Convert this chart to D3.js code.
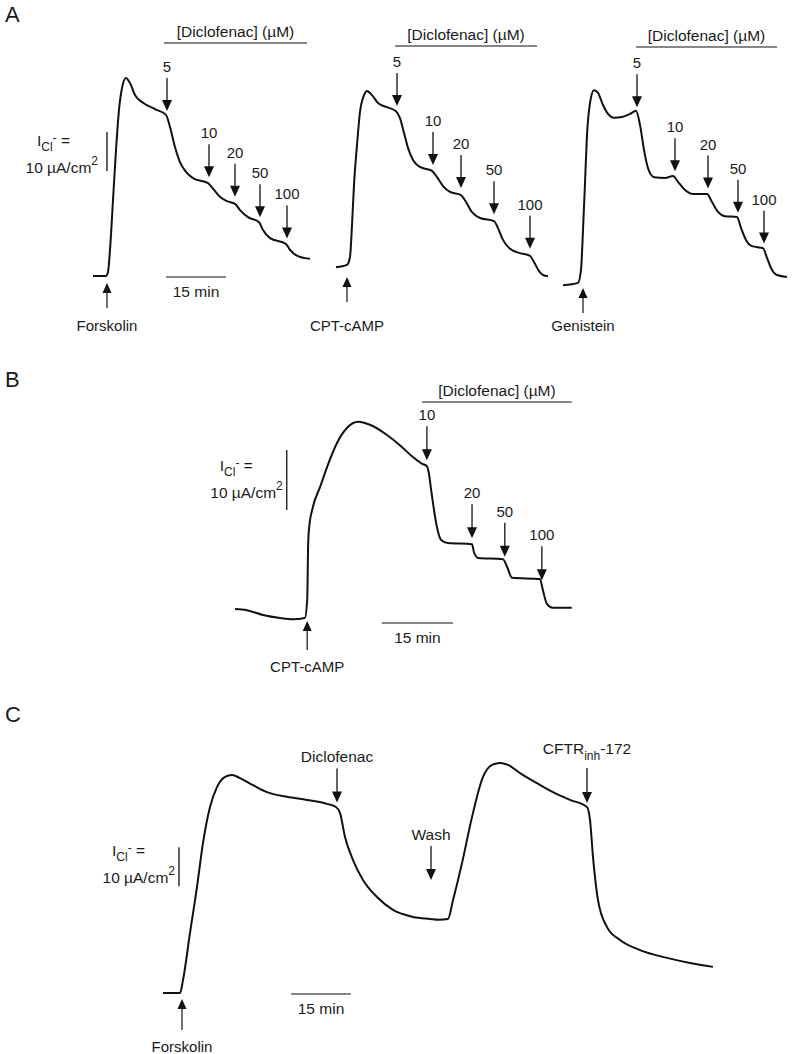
<!DOCTYPE html>
<html>
<head>
<meta charset="utf-8">
<script src="https://cdn.jsdelivr.net/npm/d3@7"></script>
<style>
  body { margin: 0; background: #fff; }
  svg text { font-family: 'Liberation Sans', Arial, Helvetica, sans-serif; fill: #1a1a1a; }
</style>
</head>
<body>
<svg width="792" height="1054"></svg>
<script>
// traces: [time (min), I_Cl (uA/cm2)], 0 = baseline before stimulation
const traceForskolinA = [[0,0],[3.25,0],[3.75,1],[4.25,6.7],[5,19.5],[5.75,32.3],[6.5,42.6],[7.25,48.2],[8.25,50.8],[9.25,49.5],[10.5,46.4],[12.5,44.4],[15.5,42.8],[18.25,41.3],[19.25,38.2],[20.5,33.1],[21.75,29.2],[23.25,26.7],[25,25.1],[28.75,23.8],[30.25,22.1],[31.75,20.3],[33.5,19.2],[35.5,18.5],[36.75,16.9],[38.75,15.1],[41.5,13.8],[42.5,11.8],[44.25,9.7],[48.25,8.2],[49.25,6.7],[51.25,5.1],[54.25,4.4]];
const traceCptA = [[0,-0.3],[2.75,0.3],[3.5,2.3],[4,10.5],[4.5,20.8],[5.25,31],[6,39.5],[7,43.8],[7.75,44.9],[9,43.8],[10.5,41.8],[12.5,40.8],[15,39.7],[16,37.9],[17,34.1],[18,30.3],[19.25,27.2],[21,25.4],[24,24.4],[25.25,22.8],[26.75,20.5],[28.5,19],[31.25,18.2],[32.5,16.4],[34,13.8],[36,12.3],[39.5,11.5],[40.5,9.7],[41.75,6.7],[43.5,4.4],[46,3.3],[48.5,2.6],[49.5,1],[50.75,-1.3],[51.75,-2.3],[53,-2.6]];
const traceGenisteinA = [[0,-0.3],[3.75,0.3],[4.5,3.6],[5,13.8],[5.5,25.9],[6,38.2],[6.75,46.4],[7.75,49.7],[8.75,49],[10,45.9],[11.25,43.6],[12.75,42.6],[14.75,42.8],[16.75,43.6],[18.25,44.4],[19.25,40.8],[20.25,34.4],[21.25,29.7],[22.75,27.4],[25.5,27.2],[27.5,27.7],[28.75,26.2],[30.5,24.1],[32.5,23.1],[36,23.1],[37.25,21],[38.75,18.5],[40.5,17.4],[43.5,17.2],[44.5,14.4],[45.75,11.3],[47.25,9.7],[50,9.2],[51,6.7],[52,4.1],[53.5,2.3],[56,1.8]];
const traceCptB = [[0,1.5],[2.5,1.3],[5.9,0.5],[9.5,0],[12.2,-0.2],[14.7,0],[15.2,3],[15.4,12.2],[15.6,15],[16.4,18.5],[17.9,21.8],[19.4,25.2],[21.5,29.2],[23.6,31.7],[25.9,32.7],[28.4,32.2],[32,30.5],[34.7,28.8],[37.5,26.8],[39.4,25.7],[40.4,25.3],[40.8,24.2],[41.3,21.3],[41.9,18],[42.5,15.2],[43.4,13],[44.8,12.5],[49.9,12.3],[50.3,11],[51.2,10],[56.4,9.8],[57.3,8.5],[58.3,6.7],[64.2,6.5],[64.8,4.7],[65.7,2.3],[66.9,1.7],[70.9,1.7]];
const traceForskolinC = [[0,0],[4.25,0],[5,3.3],[6.75,15.4],[8.5,27.2],[10,38.5],[11.75,47.7],[13.5,52.8],[15.5,55.4],[17.25,55.9],[19.25,55.1],[22.5,53.3],[26,51.5],[31,50.3],[36,49.5],[41,48.5],[43.25,47.7],[44.25,46.2],[45.5,40],[47.5,34.1],[50,29],[53.5,24.6],[57.5,21.3],[62.5,19.5],[66.75,19],[69,18.8],[71.25,19],[72.5,23.8],[74.75,33.3],[77.25,45.1],[80,55.4],[82.25,58.5],[84.25,59],[86.25,58.5],[89.25,56.4],[93.5,53.8],[97.5,51.5],[101.75,49.5],[106,47.7],[106.75,44.4],[107.5,34.9],[108.75,23.8],[111,16.9],[114.25,13.6],[119.25,11],[126,9],[131.75,7.7],[137.5,6.7]];

// diclofenac additions (uM) and when they were made (min)
const dosesA = ['5', '10', '20', '50', '100'];
const doseTimesForskolinA = [18.5, 29, 35.5, 41.75, 48.5];
const doseTimesCptA = [15.25, 24.25, 31.25, 39.5, 48.5];
const doseTimesGenisteinA = [18.5, 28, 36.25, 43.75, 50.25];
const dosesB = ['10', '20', '50', '100'];
const doseTimesB = [40.4, 49.9, 56.8, 64.6];

const eventsC = ['Diclofenac', 'Wash', 'CFTR-172'];
const eventTimesC = [43.5, 67, 106];

const svg = d3.select('svg');
const ink = '#111';

function valueAt(data, t) {
  const i = d3.bisector(d => d[0]).left(data, t);
  if (i <= 0) return data[0][1];
  if (i >= data.length) return data[data.length - 1][1];
  const a = data[i - 1], b = data[i];
  return a[1] + (b[1] - a[1]) * (t - a[0]) / (b[0] - a[0]);
}

function drawTrace(data, x, y) {
  svg.append('path')
    .datum(data)
    .attr('d', d3.line().x(d => x(d[0])).y(d => y(d[1])).curve(d3.curveMonotoneX))
    .attr('fill', 'none')
    .attr('stroke', ink)
    .attr('stroke-width', 2)
    .attr('stroke-linejoin', 'round');
}

function downArrow(xp, tip, len, label, size) {
  svg.append('line')
    .attr('x1', xp).attr('x2', xp)
    .attr('y1', tip - len).attr('y2', tip - 9)
    .attr('stroke', ink).attr('stroke-width', 1.3);
  svg.append('path')
    .attr('d', `M${xp - 5},${tip - 11}L${xp + 5},${tip - 11}L${xp},${tip}Z`)
    .attr('fill', ink);
  if (label) {
    svg.append('text')
      .attr('x', xp).attr('y', tip - len - 6)
      .attr('text-anchor', 'middle')
      .style('font-size', (size || 15) + 'px')
      .text(label);
  }
}

function upArrow(xp, tip, len, label, labelY) {
  svg.append('line')
    .attr('x1', xp).attr('x2', xp)
    .attr('y1', tip + 8).attr('y2', tip + len)
    .attr('stroke', ink).attr('stroke-width', 1.2);
  svg.append('path')
    .attr('d', `M${xp - 4.5},${tip + 10}L${xp + 4.5},${tip + 10}L${xp},${tip}Z`)
    .attr('fill', ink);
  svg.append('text')
    .attr('x', xp).attr('y', labelY || tip + len + 22)
    .attr('text-anchor', 'middle')
    .style('font-size', '15px')
    .text(label);
}

function doseBar(x, t0, t1, yp) {
  svg.append('line')
    .attr('x1', x(t0)).attr('x2', x(t1))
    .attr('y1', yp).attr('y2', yp)
    .attr('stroke', ink).attr('stroke-width', 1.2);
  svg.append('text')
    .attr('x', (x(t0) + x(t1)) / 2).attr('y', yp - 6)
    .attr('text-anchor', 'middle')
    .style('font-size', '15.5px')
    .text('[Diclofenac] (\u00b5M)');
}

function timeBar(x, t0, yp) {
  svg.append('line')
    .attr('x1', x(t0)).attr('x2', x(t0 + 15))
    .attr('y1', yp).attr('y2', yp)
    .attr('stroke', ink).attr('stroke-width', 1.2);
  svg.append('text')
    .attr('x', x(t0 + 7.5)).attr('y', yp + 20)
    .attr('text-anchor', 'middle')
    .style('font-size', '15.5px')
    .text('15 min');
}

// 10 uA/cm2 vertical bar with its two-line label
function currentBar(x, y, t, v0, lab) {
  const xp = x(t), top = y(v0 + 10), bot = y(v0);
  svg.append('line')
    .attr('x1', xp).attr('x2', xp)
    .attr('y1', top).attr('y2', bot)
    .attr('stroke', ink).attr('stroke-width', 1.3);
  const a = svg.append('text')
    .attr('x', xp - lab.dx1).attr('y', top + lab.dy1)
    .attr('text-anchor', 'end')
    .style('font-size', '15.5px');
  a.append('tspan').text('I');
  a.append('tspan').attr('dy', 5).style('font-size', '12px').text('Cl');
  a.append('tspan').attr('dy', -9).style('font-size', '12px').text('-');
  a.append('tspan').attr('dy', 4).text(' =');
  const b = svg.append('text')
    .attr('x', xp - lab.dx2).attr('y', bot + lab.dy2)
    .attr('text-anchor', 'end')
    .style('font-size', '15.5px');
  b.append('tspan').text('10 \u00b5A/cm');
  b.append('tspan').attr('dy', -8).style('font-size', '12px').text('2');
}

function panelLetter(txt, yp) {
  svg.append('text').attr('x', 5).attr('y', yp).style('font-size', '22px').text(txt);
}

// ---------- A ----------
panelLetter('A', 22);
const tracesA = [
  { data: traceForskolinA, x0: 93, y0: 276, doses: doseTimesForskolinA, stim: 3.5, gap: 7, label: 'Forskolin', bar: [17.75, 53.5, 43] },
  { data: traceCptA, x0: 336, y0: 266, doses: doseTimesCptA, stim: 2.75, gap: 11, label: 'CPT-cAMP', bar: [14.75, 50.25, 46] },
  { data: traceGenisteinA, x0: 563, y0: 284, doses: doseTimesGenisteinA, stim: 5, gap: 4, label: 'Genistein', bar: [18.25, 53.5, 47] }
];
tracesA.forEach((tr, k) => {
  const x = d3.scaleLinear().domain([0, 15]).range([tr.x0, tr.x0 + 60]);
  const y = d3.scaleLinear().domain([0, 10]).range([tr.y0, tr.y0 - 39]);
  drawTrace(tr.data, x, y);
  tr.doses.forEach((t, i) => {
    downArrow(x(t), y(valueAt(tr.data, t)) - 7, 33, dosesA[i]);
  });
  upArrow(x(tr.stim), y(0) + tr.gap, 25, tr.label, 331);
  doseBar(x, tr.bar[0], tr.bar[1], tr.bar[2]);
  if (k === 0) {
    timeBar(x, 18.25, 277);
    currentBar(x, y, 3.5, 26.9, { dx1: 37, dy1: 14, dx2: 9, dy2: 2 });
  }
});

// ---------- B ----------
panelLetter('B', 387);
{
  const x = d3.scaleLinear().domain([0, 15]).range([235, 235 + 71.25]);
  const y = d3.scaleLinear().domain([0, 10]).range([618, 558]);
  drawTrace(traceCptB, x, y);
  doseTimesB.forEach((t, i) => {
    downArrow(x(t), y(valueAt(traceCptB, t)) - 6, 34, dosesB[i]);
  });
  upArrow(x(15.2), y(0) + 3, 29, 'CPT-cAMP');
  doseBar(x, 39.4, 70.9, 402);
  timeBar(x, 30.9, 623);
  currentBar(x, y, 10.9, 18, { dx1: 34, dy1: 21, dx2: 4, dy2: -12 });
}

// ---------- C ----------
panelLetter('C', 722);
{
  const x = d3.scaleLinear().domain([0, 15]).range([163, 223]);
  const y = d3.scaleLinear().domain([0, 10]).range([993, 954]);
  drawTrace(traceForskolinC, x, y);
  const gaps = [6, 39, 4];
  eventsC.forEach((ev, i) => {
    const t = eventTimesC[i];
    const xp = x(t), tip = y(valueAt(traceForskolinC, t)) - gaps[i];
    if (ev === 'CFTR-172') {
      downArrow(xp, tip, 35, null);
      const lab = svg.append('text')
        .attr('x', xp).attr('y', tip - 35 - 14)
        .attr('text-anchor', 'middle')
        .style('font-size', '15.5px');
      lab.append('tspan').text('CFTR');
      lab.append('tspan').attr('dy', 6).style('font-size', '12px').text('inh');
      lab.append('tspan').attr('dy', -6).text('-172');
    } else {
      downArrow(xp, tip, 34, ev, 15.5);
    }
  });
  upArrow(x(4.75), y(0) + 6, 31, 'Forskolin');
  timeBar(x, 32, 994);
  currentBar(x, y, 4, 27.4, { dx1: 34, dy1: 9, dx2: 4, dy2: -3 });
}
</script>
</body>
</html>
